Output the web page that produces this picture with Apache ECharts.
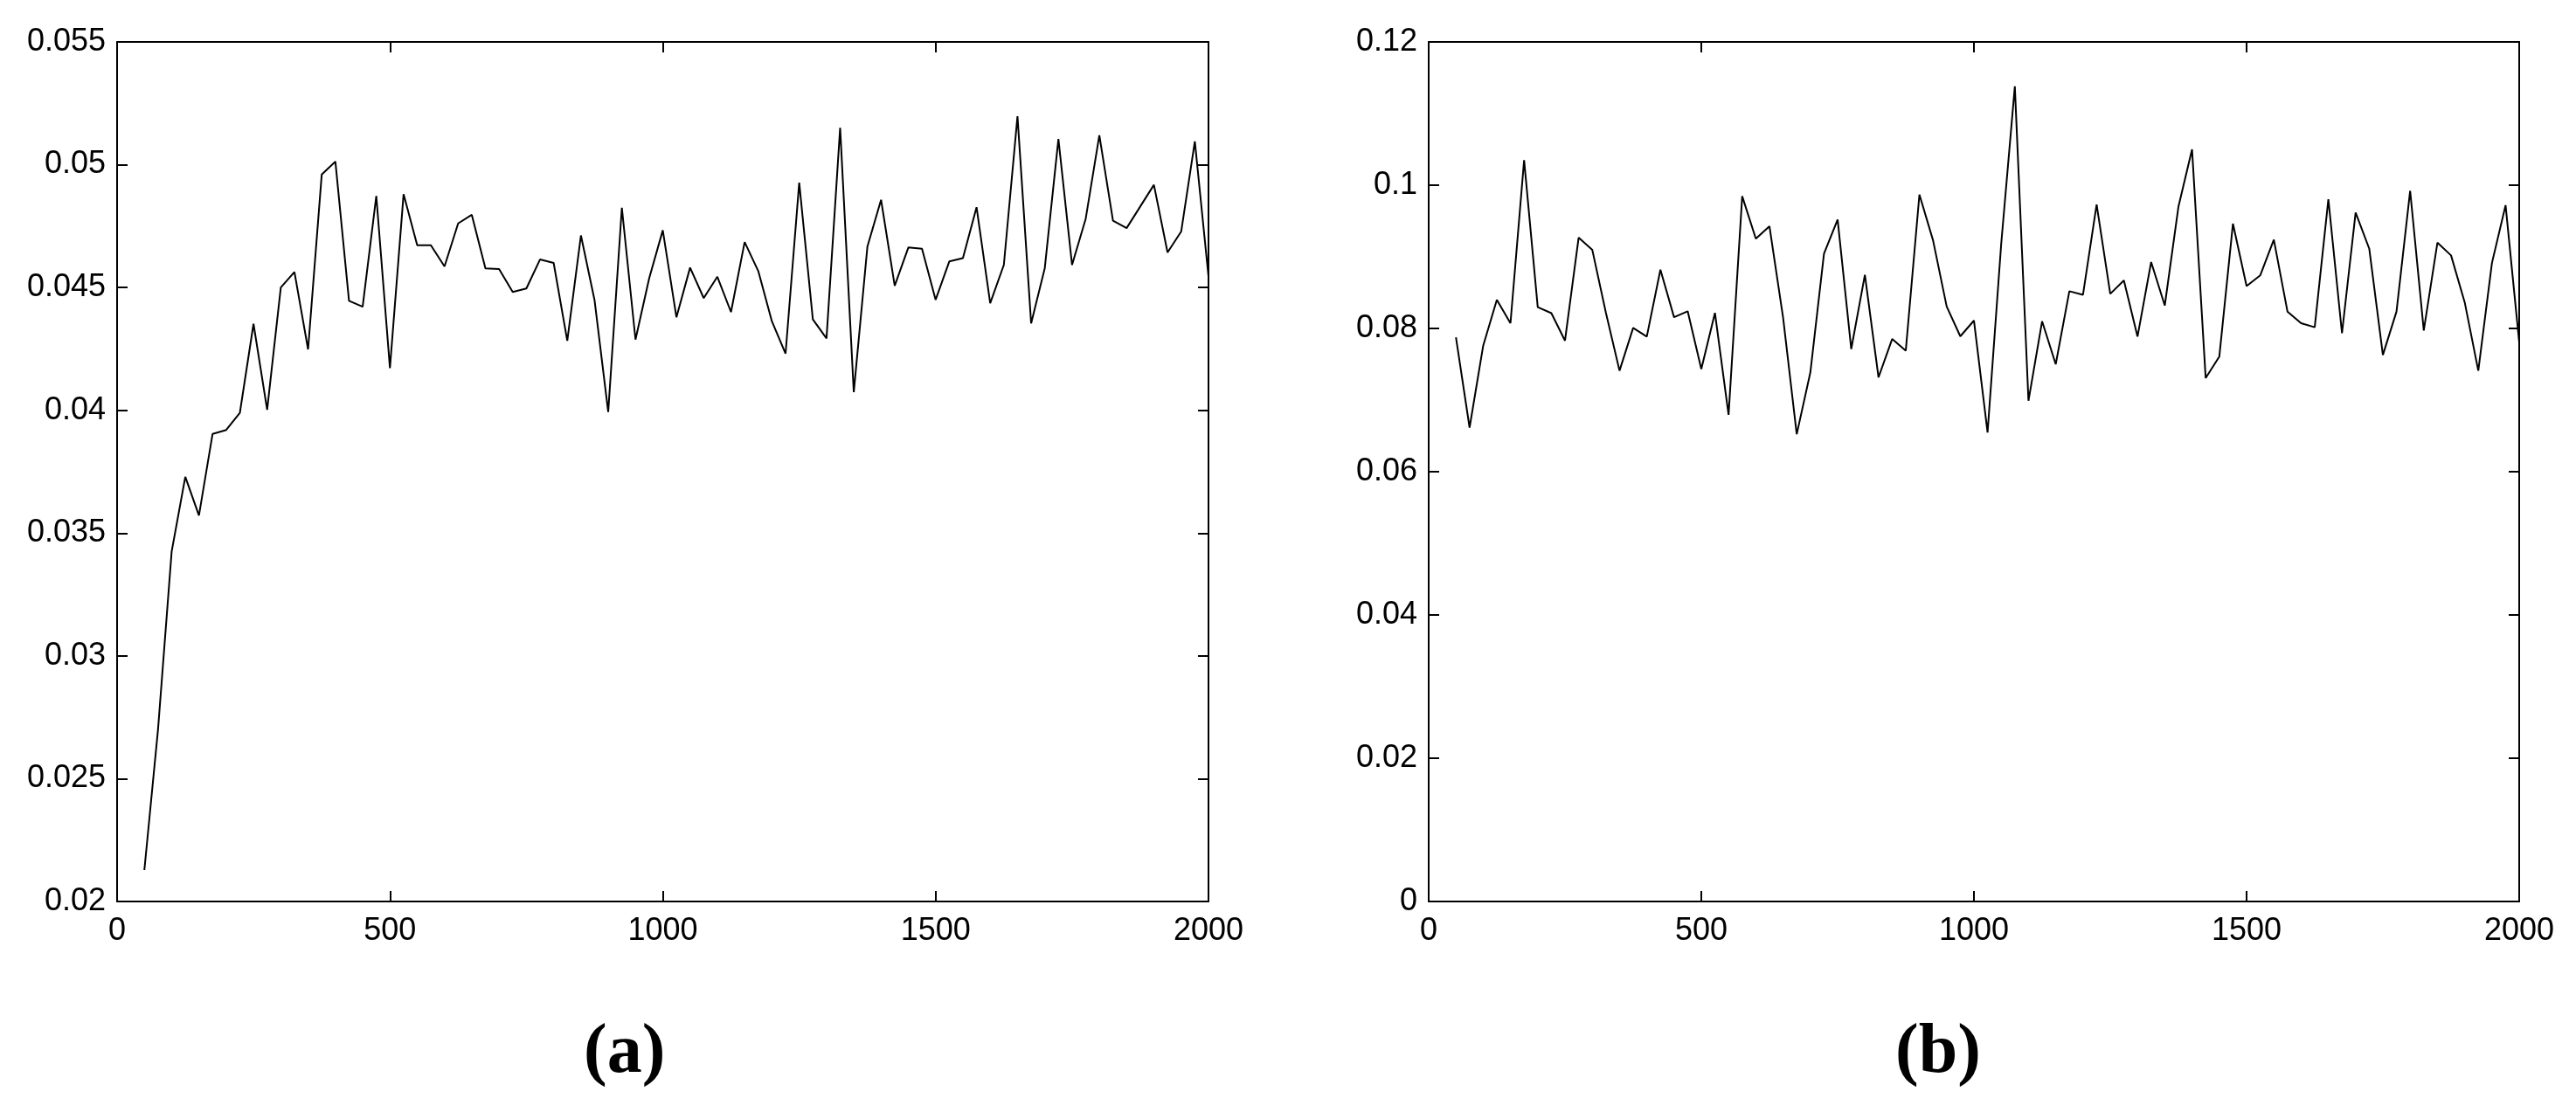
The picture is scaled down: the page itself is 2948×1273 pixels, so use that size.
<!DOCTYPE html>
<html>
<head>
<meta charset="utf-8">
<script src="https://cdn.jsdelivr.net/npm/echarts@6/dist/echarts.min.js"></script>
<style>
html,body{margin:0;padding:0;background:#fff;}
#c{width:2948px;height:1273px;}
</style>
</head>
<body>
<div id="c"></div>
<script>
// x positions (iterations)
const xValues = [50,75,100,125,150,175,200,225,250,275,300,325,350,375,400,425,450,475,500,525,550,575,600,625,650,675,
  700,725,750,775,800,825,850,875,900,925,950,975,1000,1025,1050,1075,1100,1125,1150,1175,1200,1225,1250,1275,1300,1325,
  1350,1375,1400,1425,1450,1475,1500,1525,1550,1575,1600,1625,1650,1675,1700,1725,1750,1775,1800,1825,1850,1875,1900,1925,1950,1975,2000];

// panel (a) values
const seriesA = [0.02128,0.0270,0.03425,0.03729,0.03572,0.03904,0.0392,0.0399,0.04352,0.04002,0.0450,0.04563,0.04248,0.0496,0.05013,0.04446,0.04422,0.04873,0.04172,0.0488,0.04672,0.04672,0.04586,0.04761,0.04796,0.04578,
  0.04575,0.04482,0.04496,0.04614,0.0460,0.04283,0.04712,0.04448,0.03993,0.04825,0.04288,0.04537,0.04733,0.04379,0.04581,0.04457,0.04544,0.0440,0.04685,0.04567,0.04362,0.04231,0.04927,0.0437,0.04293,0.0515,
  0.04074,0.04667,0.04857,0.04507,0.04663,0.04658,0.0445,0.04606,0.0462,0.04827,0.04436,0.04592,0.05197,0.04354,0.04579,0.05105,0.04592,0.0478,0.0512,0.04772,0.04742,0.0483,0.04918,0.04643,0.04728,0.05095,0.04545];

// panel (b) values
const seriesB = [0.07877,0.06616,0.0776,0.08399,0.08073,0.1035,0.08297,0.08213,0.0783,0.09267,0.09099,0.0822,0.0741,0.08007,0.07886,0.0882,0.08157,0.0824,0.07433,0.08217,0.06794,0.09846,0.09253,0.09426,0.0815,0.06523,
  0.07387,0.09043,0.09519,0.07713,0.08749,0.07317,0.07853,0.0769,0.09869,0.0923,0.08306,0.0789,0.0811,0.06547,0.0918,0.1138,0.0699,0.0810,0.0750,0.0852,0.0847,0.0973,0.08483,0.0867,0.07886,0.08927,
  0.0832,0.09697,0.105,0.07307,0.07606,0.09463,0.08591,0.0874,0.0924,0.08236,0.08073,0.08017,0.09804,0.07933,0.09617,0.09113,0.07629,0.08236,0.09921,0.0797,0.09197,0.0902,0.08367,0.0741,0.08913,0.0972,0.07807];

// axis ranges / ticks
const xRange = {min: 0, max: 2000, interval: 500};
const yRangeA = {min: 0.02, max: 0.055, interval: 0.005};
const yRangeB = {min: 0, max: 0.12, interval: 0.02};
const captions = ['(a)', '(b)'];

const FONT = 'Liberation Sans, Arial, Helvetica, sans-serif';
const lineCol = '#000';

function xAxisDef(grid, pos, show) {
  return {
    type: 'value', gridIndex: grid, position: pos,
    min: xRange.min, max: xRange.max, interval: xRange.interval,
    axisLine: {show: true, onZero: false, lineStyle: {color: lineCol, width: 2}},
    axisTick: {show: true, inside: true, length: 12, lineStyle: {color: lineCol, width: 2}},
    axisLabel: {show: show, margin: 16, fontFamily: FONT, fontSize: 36, color: '#000',
      formatter: v => String(Math.round(v))},
    splitLine: {show: false}
  };
}
function yAxisDef(grid, pos, r, show) {
  return {
    type: 'value', gridIndex: grid, position: pos,
    min: r.min, max: r.max, interval: r.interval,
    axisLine: {show: true, onZero: false, lineStyle: {color: lineCol, width: 2}},
    axisTick: {show: true, inside: true, length: 12, lineStyle: {color: lineCol, width: 2}},
    axisLabel: {show: show, margin: 13, fontFamily: FONT, fontSize: 36, color: '#000',
      formatter: v => String(+(+v).toFixed(4))},
    splitLine: {show: false}
  };
}

const chart = echarts.init(document.getElementById('c'), null, {renderer: 'canvas'});
chart.setOption({
  animation: false,
  backgroundColor: '#fff',
  grid: [
    {left: 134, top: 48, width: 1249, height: 984},
    {left: 1635, top: 48, width: 1248, height: 984}
  ],
  xAxis: [
    xAxisDef(0, 'bottom', true), xAxisDef(0, 'top', false),
    xAxisDef(1, 'bottom', true), xAxisDef(1, 'top', false)
  ],
  yAxis: [
    yAxisDef(0, 'left', yRangeA, true), yAxisDef(0, 'right', yRangeA, false),
    yAxisDef(1, 'left', yRangeB, true), yAxisDef(1, 'right', yRangeB, false)
  ],
  series: [
    {type: 'line', xAxisIndex: 0, yAxisIndex: 0, showSymbol: false, symbol: 'none',
     lineStyle: {color: '#000', width: 2}, data: xValues.map((x, i) => [x, seriesA[i]])},
    {type: 'line', xAxisIndex: 2, yAxisIndex: 2, showSymbol: false, symbol: 'none',
     lineStyle: {color: '#000', width: 2}, data: xValues.map((x, i) => [x, seriesB[i]])}
  ],
  graphic: [
    {type: 'text', left: 718 - 50, top: 1166, style: {text: captions[0], font: 'bold 80px "Liberation Serif", "DejaVu Serif", serif', fill: '#000', width: 100, align: 'center'}},
    {type: 'text', left: 2219 - 50, top: 1166, style: {text: captions[1], font: 'bold 80px "Liberation Serif", "DejaVu Serif", serif', fill: '#000', width: 100, align: 'center'}}
  ]
});
</script>
</body>
</html>
